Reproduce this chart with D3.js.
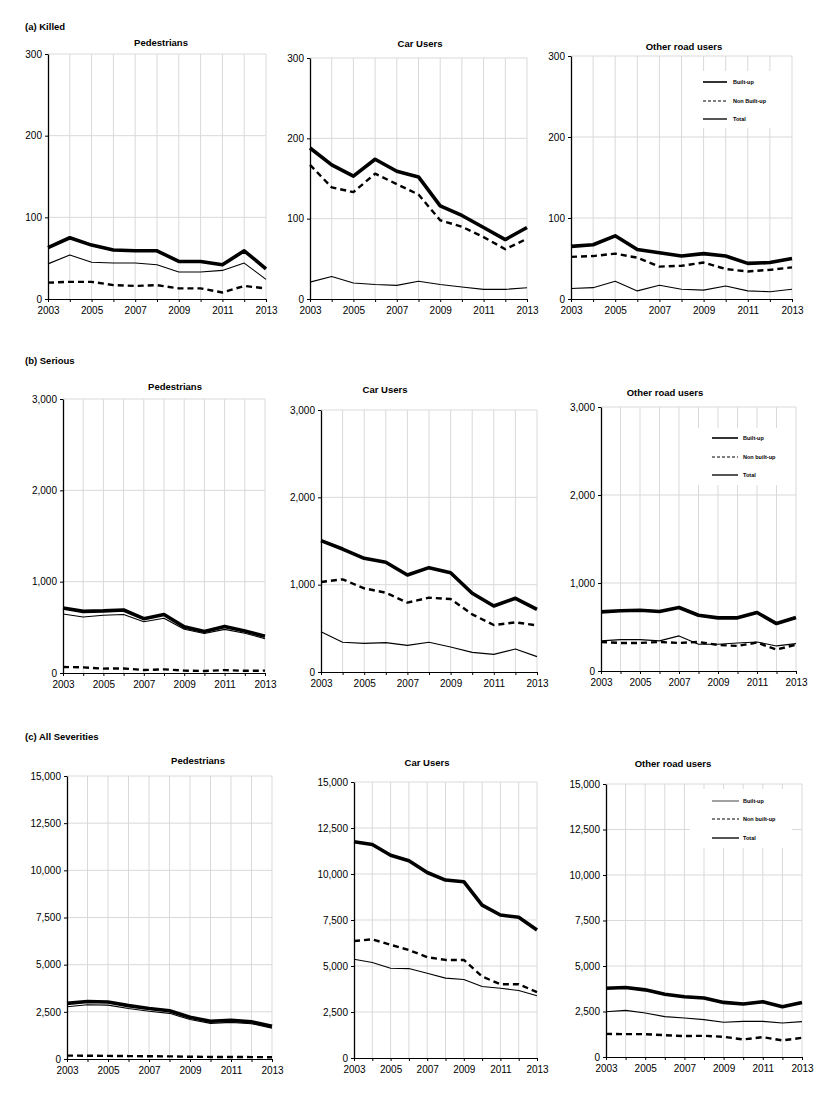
<!DOCTYPE html>
<html>
<head>
<meta charset="utf-8">
<script src="https://cdn.jsdelivr.net/npm/d3@7"></script>
<style>
  body { margin: 0; background: #fff; }
  svg { font-family: "Liberation Sans", Arial, sans-serif; }
  .grid line { stroke: #d9d9d9; stroke-width: 1; }
  .axis path, .axis line { stroke: #000; }
  .axis text { font-size: 10px; fill: #000; }
</style>
</head>
<body>
<svg width="827" height="1095"></svg>
<script>
const years = [2003, 2004, 2005, 2006, 2007, 2008, 2009, 2010, 2011, 2012, 2013];
const yearTicks = [2003, 2005, 2007, 2009, 2011, 2013];

// (a) Killed
const killedPedTotal = [63, 75, 66, 60, 59, 59, 46, 46, 42, 59, 37];
const killedPedNon = [20, 21, 21, 17, 16, 17, 13, 13, 8, 16, 13];
const killedPedBuilt = [43, 54, 45, 44, 44, 42, 33, 33, 35, 44, 24];
const killedCarTotal = [188, 167, 153, 174, 159, 152, 116, 104, 89, 74, 89];
const killedCarNon = [167, 139, 133, 156, 143, 130, 98, 90, 77, 62, 75];
const killedCarBuilt = [21, 28, 20, 18, 17, 22, 18, 15, 12, 12, 14];
const killedOtherTotal = [65, 67, 78, 61, 57, 53, 56, 53, 44, 45, 50];
const killedOtherNon = [52, 53, 56, 51, 40, 41, 45, 37, 34, 36, 39];
const killedOtherBuilt = [13, 14, 22, 10, 17, 12, 11, 16, 10, 9, 12];

// (b) Serious
const seriousPedTotal = [712, 675, 680, 690, 595, 640, 505, 455, 510, 460, 402];
const seriousPedNon = [66, 62, 48, 50, 33, 40, 26, 22, 32, 24, 26];
const seriousPedBuilt = [646, 613, 632, 640, 562, 600, 479, 433, 478, 436, 376];
const seriousCarTotal = [1504, 1408, 1302, 1256, 1111, 1195, 1137, 901, 756, 844, 718];
const seriousCarNon = [1031, 1061, 958, 908, 794, 851, 836, 660, 538, 569, 534];
const seriousCarBuilt = [462, 340, 328, 336, 305, 340, 286, 225, 202, 263, 176];
const seriousOtherTotal = [672, 684, 691, 676, 722, 634, 604, 604, 665, 539, 608];
const seriousOtherNon = [330, 319, 319, 330, 319, 330, 296, 285, 323, 243, 300];
const seriousOtherBuilt = [342, 357, 357, 342, 399, 304, 304, 319, 330, 285, 311];

// (c) All severities
const allPedTotal = [2950, 3050, 3020, 2830, 2680, 2560, 2210, 2000, 2050, 1970, 1730];
const allPedNon = [180, 175, 165, 155, 145, 140, 120, 110, 110, 100, 95];
const allPedBuilt = [2770, 2875, 2855, 2675, 2535, 2420, 2090, 1890, 1940, 1870, 1635];
const allCarTotal = [11750, 11600, 11020, 10720, 10080, 9670, 9580, 8310, 7770, 7650, 6960];
const allCarNon = [6360, 6450, 6150, 5870, 5480, 5330, 5330, 4430, 4010, 4010, 3580];
const allCarBuilt = [5370, 5190, 4880, 4860, 4610, 4340, 4270, 3890, 3790, 3670, 3380];
const allOtherTotal = [3780, 3820, 3690, 3450, 3310, 3240, 3000, 2910, 3040, 2760, 3000];
const allOtherNon = [1270, 1255, 1255, 1200, 1150, 1165, 1110, 965, 1090, 910, 1055];
const allOtherBuilt = [2490, 2560, 2420, 2220, 2145, 2055, 1910, 1960, 1960, 1870, 1945];

const killedTicks = [0, 100, 200, 300];
const seriousTicks = [0, 1000, 2000, 3000];
const allTicks = [0, 2500, 5000, 7500, 10000, 12500, 15000];

const legendA = ["Built-up", "Non Built-up", "Total"];
const legendBC = ["Built-up", "Non built-up", "Total"];

const svg = d3.select("svg");

const sections = [
    {label: "(a) Killed", x: 25, y: 30},
    {label: "(b) Serious", x: 25, y: 364},
    {label: "(c) All Severities", x: 25, y: 740}
];
svg.selectAll("text.section").data(sections).enter().append("text")
    .attr("class", "section")
    .attr("x", d => d.x).attr("y", d => d.y)
    .attr("font-size", "9.5px").attr("font-weight", "bold")
    .text(d => d.label);

// total = thick, non built-up = dashed, built-up = thin
const styles = [
    {width: 3.6, dash: null, color: "#000"},
    {width: 2.4, dash: "6,4", color: "#000"},
    {width: 1.1, dash: null, color: "#000"}
];
const legendStylesAB = [
    {width: 1.6, dash: null, color: "#000"},
    {width: 1, dash: "3,2", color: "#000"},
    {width: 2, dash: null, color: "#555"}
];
const legendStylesC = [
    {width: 1.1, dash: null, color: "#555"},
    {width: 1, dash: "3,2", color: "#000"},
    {width: 2, dash: null, color: "#555"}
];

const panels = [
    {title: "Pedestrians", box: [48, 54, 266, 299], titleXY: [161, 46], ticks: killedTicks, series: [killedPedTotal, killedPedNon, killedPedBuilt]},
    {title: "Car Users", box: [310, 58, 527, 299], titleXY: [420, 47], ticks: killedTicks, series: [killedCarTotal, killedCarNon, killedCarBuilt]},
    {title: "Other road users", box: [571, 56, 792, 299], titleXY: [684, 50], ticks: killedTicks, series: [killedOtherTotal, killedOtherNon, killedOtherBuilt],
        legend: {labels: legendA, styles: legendStylesAB, box: [700, 71, 789, 128], x1: 703, x2: 727, tx: 733, ys: [82, 101, 119]}},
    {title: "Pedestrians", box: [63, 399, 265, 673], titleXY: [175, 390], ticks: seriousTicks, series: [seriousPedTotal, seriousPedNon, seriousPedBuilt]},
    {title: "Car Users", box: [321, 410, 537, 672], titleXY: [385, 393], ticks: seriousTicks, series: [seriousCarTotal, seriousCarNon, seriousCarBuilt]},
    {title: "Other road users", box: [601, 407, 796, 671], titleXY: [665, 396], ticks: seriousTicks, series: [seriousOtherTotal, seriousOtherNon, seriousOtherBuilt],
        legend: {labels: legendBC, styles: legendStylesAB, box: [698, 428, 785, 485], x1: 712, x2: 738, tx: 743, ys: [438, 457, 475]}},
    {title: "Pedestrians", box: [67, 776, 272, 1059], titleXY: [198, 764], ticks: allTicks, series: [allPedTotal, allPedNon, allPedBuilt]},
    {title: "Car Users", box: [354, 782, 537, 1058], titleXY: [427, 766], ticks: allTicks, series: [allCarTotal, allCarNon, allCarBuilt]},
    {title: "Other road users", box: [606, 784, 802, 1057], titleXY: [673, 767], ticks: allTicks, series: [allOtherTotal, allOtherNon, allOtherBuilt],
        legend: {labels: legendBC, styles: legendStylesC, box: [690, 789, 792, 848], x1: 712, x2: 739, tx: 743, ys: [801, 819, 838]}}
];

panels.forEach(p => {
    const [x0, y0, x1, y1] = p.box;
    const x = d3.scaleLinear().domain([2003, 2013]).range([x0, x1]);
    const y = d3.scaleLinear().domain([0, d3.max(p.ticks)]).range([y1, y0]);
    const g = svg.append("g");

    // gridlines
    const grid = g.append("g").attr("class", "grid");
    grid.selectAll("line.v").data(years.slice(1)).enter().append("line")
        .attr("x1", d => x(d)).attr("x2", d => x(d))
        .attr("y1", y0).attr("y2", y1);
    grid.selectAll("line.h").data(p.ticks.slice(1)).enter().append("line")
        .attr("x1", x0).attr("x2", x1)
        .attr("y1", d => y(d)).attr("y2", d => y(d));

    // legend box hides the gridlines behind it
    if (p.legend) {
        const lb = p.legend.box;
        g.append("rect").attr("x", lb[0]).attr("y", lb[1])
            .attr("width", lb[2] - lb[0]).attr("height", lb[3] - lb[1])
            .attr("fill", "#fff");
        p.legend.labels.forEach((lab, i) => {
            const s = p.legend.styles[i];
            g.append("line")
                .attr("x1", p.legend.x1).attr("x2", p.legend.x2)
                .attr("y1", p.legend.ys[i]).attr("y2", p.legend.ys[i])
                .attr("stroke", s.color).attr("stroke-width", s.width)
                .attr("stroke-dasharray", s.dash);
            g.append("text")
                .attr("x", p.legend.tx).attr("y", p.legend.ys[i] + 2)
                .attr("font-size", "5.5px").attr("font-weight", "bold")
                .text(lab);
        });
    }

    // axes
    g.append("g").attr("class", "axis")
        .attr("transform", `translate(0,${y1})`)
        .call(d3.axisBottom(x).tickValues(years).tickSize(3).tickSizeOuter(0)
            .tickFormat(d => yearTicks.includes(d) ? d : ""))
        .call(a => a.selectAll("text").attr("dy", "0.85em"));
    g.append("g").attr("class", "axis")
        .attr("transform", `translate(${x0},0)`)
        .call(d3.axisLeft(y).tickValues(p.ticks).tickSize(3).tickSizeOuter(0)
            .tickFormat(d3.format(",")))
        .call(a => a.select(".domain").attr("stroke-width", 1.3));

    // series
    const line = d3.line().x((d, i) => x(years[i])).y(d => y(d));
    p.series.forEach((vals, i) => {
        const s = styles[i];
        g.append("path").datum(vals)
            .attr("fill", "none")
            .attr("stroke", s.color)
            .attr("stroke-width", s.width)
            .attr("stroke-dasharray", s.dash)
            .attr("stroke-linejoin", "round")
            .attr("d", line);
    });

    g.append("text")
        .attr("x", p.titleXY[0]).attr("y", p.titleXY[1])
        .attr("text-anchor", "middle")
        .attr("font-size", "9.5px").attr("font-weight", "bold")
        .text(p.title);
});
</script>
</body>
</html>
